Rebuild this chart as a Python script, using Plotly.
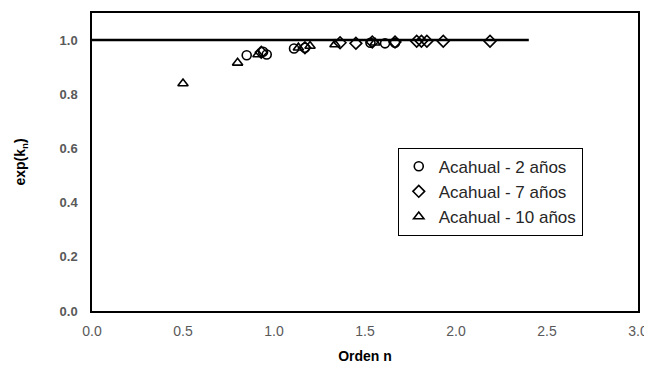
import plotly.graph_objects as go

# Acahual - 2 años
x_2 = [0.85, 0.94, 0.96, 1.11, 1.17, 1.53, 1.61, 1.665]
y_2 = [0.944, 0.957, 0.947, 0.969, 0.972, 0.990, 0.988, 0.990]
# Acahual - 7 años
x_7 = [0.93, 1.17, 1.363, 1.45, 1.54, 1.665, 1.784, 1.81, 1.84, 1.93, 2.187]
y_7 = [0.955, 0.972, 0.990, 0.988, 0.993, 0.993, 0.996, 0.996, 0.996, 0.996, 0.996]
# Acahual - 10 años
x_10 = [0.50, 0.80, 0.912, 1.134, 1.198, 1.335, 1.555]
y_10 = [0.840, 0.916, 0.947, 0.972, 0.978, 0.984, 0.990]
# reference line
x_ref = [0.0, 2.4]
y_ref = [1.0, 1.0]

x_ticks = [0.0, 0.5, 1.0, 1.5, 2.0, 2.5, 3.0]
y_ticks = [0.0, 0.2, 0.4, 0.6, 0.8, 1.0]

fig = go.Figure()
fig.add_trace(go.Scatter(x=x_ref, y=y_ref, mode="lines",
                         line=dict(color="black", width=2.5), showlegend=False))
mk = dict(color="black", size=9, line=dict(color="black", width=1.6))
fig.add_trace(go.Scatter(x=x_2, y=y_2, mode="markers", name="Acahual - 2 años",
                         legendgroup="a", marker=dict(symbol="circle-open", **mk)))
fig.add_trace(go.Scatter(x=x_7, y=y_7, mode="markers", name="Acahual - 7 años",
                         legendgroup="b", marker=dict(symbol="diamond-open", **mk)))
fig.add_trace(go.Scatter(x=x_10, y=y_10, mode="markers", name="Acahual - 10 años",
                         legendgroup="c", marker=dict(symbol="triangle-up-open", **mk)))

fig.update_layout(
    width=644, height=362,
    margin=dict(l=84, r=14, t=5, b=59),
    paper_bgcolor="white", plot_bgcolor="white",
    font=dict(family="Liberation Sans, Arial, sans-serif", size=12, color="#595959"),
    legend=dict(x=0.56, y=0.548, xanchor="left", yanchor="top",
                bordercolor="black", borderwidth=1, bgcolor="white",
                font=dict(size=17, color="#262626"), itemwidth=30,
                tracegroupgap=0),
    showlegend=True,
)
fig.update_xaxes(range=[0, 3], tickvals=x_ticks, ticktext=[f"{v:.1f}" for v in x_ticks],
                 showgrid=False, zeroline=False, showline=True, linecolor="black",
                 linewidth=1.5, mirror=True, ticks="", automargin=False,
                 ticklabelstandoff=6,
                 tickfont=dict(size=14, color="#595959"),
                 title=dict(text="<b>Orden n</b>", font=dict(size=14, color="black"), standoff=14))
fig.update_yaxes(range=[0, 1.1], tickvals=y_ticks,
                 ticktext=[f"<b>{v:.1f}</b>" for v in y_ticks],
                 showgrid=False, zeroline=False, showline=True, linecolor="black",
                 linewidth=1.5, mirror=True, ticks="", automargin=False,
                 ticklabelstandoff=10,
                 tickfont=dict(size=13, color="#595959"),
                 title=dict(text="<b>exp(k<sub>n</sub>)</b>", font=dict(size=14, color="black"), standoff=31))

fig.write_html("out.html")
